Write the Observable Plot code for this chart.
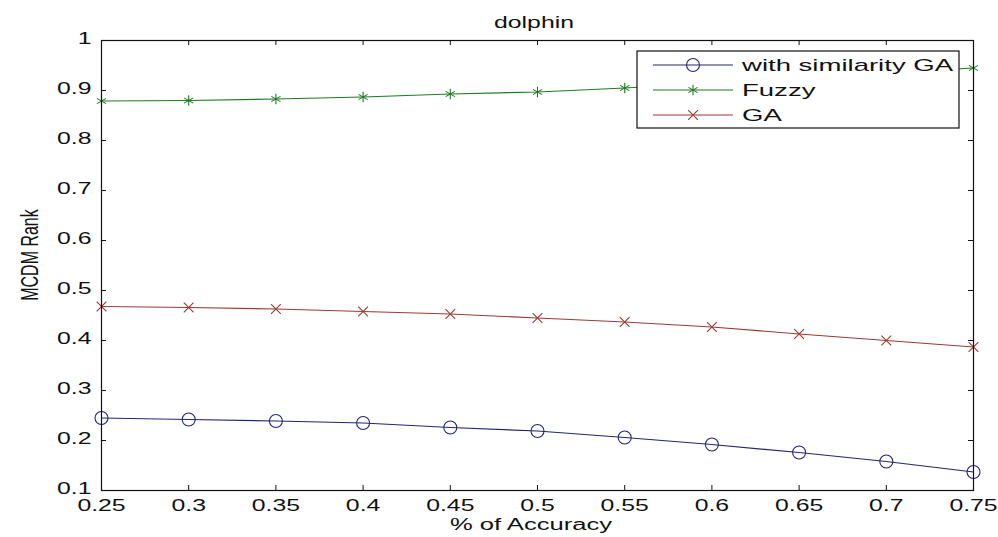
<!DOCTYPE html>
<html>
<head>
<meta charset="utf-8">
<script src="https://cdn.jsdelivr.net/npm/d3@7"></script>
<script src="https://cdn.jsdelivr.net/npm/@observablehq/plot@0.6"></script>
<style>
  html, body { margin: 0; padding: 0; background: #fff; }
  #chart svg { display: block; }
</style>
</head>
<body>
<div id="chart"></div>
<script>
// ---- data ----
const accuracy = [0.25, 0.3, 0.35, 0.4, 0.45, 0.5, 0.55, 0.6, 0.65, 0.7, 0.75];
const similarityGA = [0.245, 0.242, 0.239, 0.235, 0.226, 0.219, 0.206, 0.192, 0.176, 0.158, 0.137];
const fuzzy = [0.879, 0.880, 0.883, 0.887, 0.893, 0.897, 0.905, 0.915, 0.925, 0.935, 0.945];
const ga = [0.468, 0.466, 0.463, 0.458, 0.453, 0.445, 0.437, 0.427, 0.413, 0.400, 0.387];
const seriesNames = ["with similarity GA", "Fuzzy", "GA"];
const xTicks = [0.25, 0.3, 0.35, 0.4, 0.45, 0.5, 0.55, 0.6, 0.65, 0.7, 0.75];
const yTicks = [0.1, 0.2, 0.3, 0.4, 0.5, 0.6, 0.7, 0.8, 0.9, 1];
const titleText = "dolphin";
const xLabel = "% of Accuracy";
const yLabel = "MCDM Rank";

// ---- styles ----
const colors = ["#222670", "#1f7a22", "#9c3a34"];
const symbols = ["circle", "asterisk", "times"];
const radii = [6.5, 5, 4.5];
const FONT = "'Liberation Sans', Arial, Helvetica, sans-serif";
const SX = 1.55;

const W = 998, H = 537;
const mL = 101, mR = 25, mT = 40, mB = 47;
const plotW = W - mL - mR, plotH = H - mT - mB;

const seriesValues = [similarityGA, fuzzy, ga];
const rows = seriesValues.flatMap((vals, s) =>
  accuracy.map((a, i) => ({ x: a, y: vals[i], s }))
);

const marks = [];
seriesValues.forEach((vals, s) => {
  const data = rows.filter(d => d.s === s);
  marks.push(Plot.line(data, { x: "x", y: "y", stroke: colors[s], strokeWidth: 1.2 }));
  marks.push(Plot.dot(data, { x: "x", y: "y", stroke: colors[s], fill: "none",
    symbol: symbols[s], r: radii[s], strokeWidth: 1.1 }));
});

const chart = Plot.plot({
  width: W, height: H,
  marginLeft: mL, marginRight: mR, marginTop: mT, marginBottom: mB,
  style: { fontFamily: FONT, fontSize: "16px", color: "#111", background: "#fff" },
  x: { type: "linear", domain: [0.25, 0.75] },
  y: { type: "linear", domain: [0.1, 1] },
  marks: [
    ...marks,
    Plot.frame({ stroke: "#111", strokeWidth: 1.2 }),
    // inward ticks on all four sides
    Plot.tickX(xTicks, { x: d => d, stroke: "#111", insetTop: plotH - 5 }),
    Plot.tickX(xTicks, { x: d => d, stroke: "#111", insetBottom: plotH - 5 }),
    Plot.tickY(yTicks, { y: d => d, stroke: "#111", insetRight: plotW - 5 }),
    Plot.tickY(yTicks, { y: d => d, stroke: "#111", insetLeft: plotW - 5 }),
    Plot.axisX(xTicks, { anchor: "bottom", tickSize: 0, tickPadding: 9, label: null,
      tickFormat: d => String(+d.toFixed(2)), fontSize: 16, fill: "#111" }),
    Plot.axisY(yTicks, { anchor: "left", tickSize: 0, tickPadding: 10, label: null,
      tickFormat: d => String(+d.toFixed(2)), fontSize: 16, fill: "#111", dy: -2 })
  ]
});

document.getElementById("chart").appendChild(chart);
const svg = d3.select(chart);

// horizontally stretch Plot's tick labels (MATLAB export look)
svg.selectAll("text").each(function () {
  const t = this.getAttribute("transform") || "";
  this.setAttribute("transform", (t + ` scale(${SX},1)`).trim());
});

// title and axis labels
const tg = svg.append("g").attr("font-family", FONT).attr("font-size", 16).attr("fill", "#111");
tg.append("text").attr("text-anchor", "middle").attr("dy", "0.35em")
  .attr("transform", `translate(534,22) scale(${SX},1)`).text(titleText);
tg.append("text").attr("text-anchor", "middle").attr("dy", "0.35em")
  .attr("transform", `translate(531,524) scale(${SX + 0.05},1)`).text(xLabel);
tg.append("text").attr("text-anchor", "middle").attr("dy", "0.35em")
  .attr("transform", `translate(29,255) rotate(-90) scale(1,${SX})`).text(yLabel);

// legend
const lg = svg.append("g").attr("font-family", FONT).attr("font-size", 17).attr("fill", "#111");
lg.append("rect").attr("x", 637).attr("y", 51).attr("width", 322).attr("height", 77)
  .attr("fill", "#fff").attr("stroke", "#111").attr("stroke-width", 1.2);
const symMap = { circle: d3.symbolCircle, asterisk: d3.symbolAsterisk, times: d3.symbolTimes };
seriesNames.forEach((name, s) => {
  const y = 65 + s * 25;
  lg.append("line").attr("x1", 653).attr("x2", 733).attr("y1", y).attr("y2", y)
    .attr("stroke", colors[s]).attr("stroke-width", 1.2);
  lg.append("path").attr("transform", `translate(693,${y})`)
    .attr("d", d3.symbol(symMap[symbols[s]], radii[s] * radii[s] * Math.PI)())
    .attr("fill", "none").attr("stroke", colors[s]).attr("stroke-width", 1.1);
  lg.append("text").attr("text-anchor", "start").attr("dy", "0.35em")
    .attr("transform", `translate(742,${y}) scale(1.62,1)`).text(name);
});
</script>
</body>
</html>
